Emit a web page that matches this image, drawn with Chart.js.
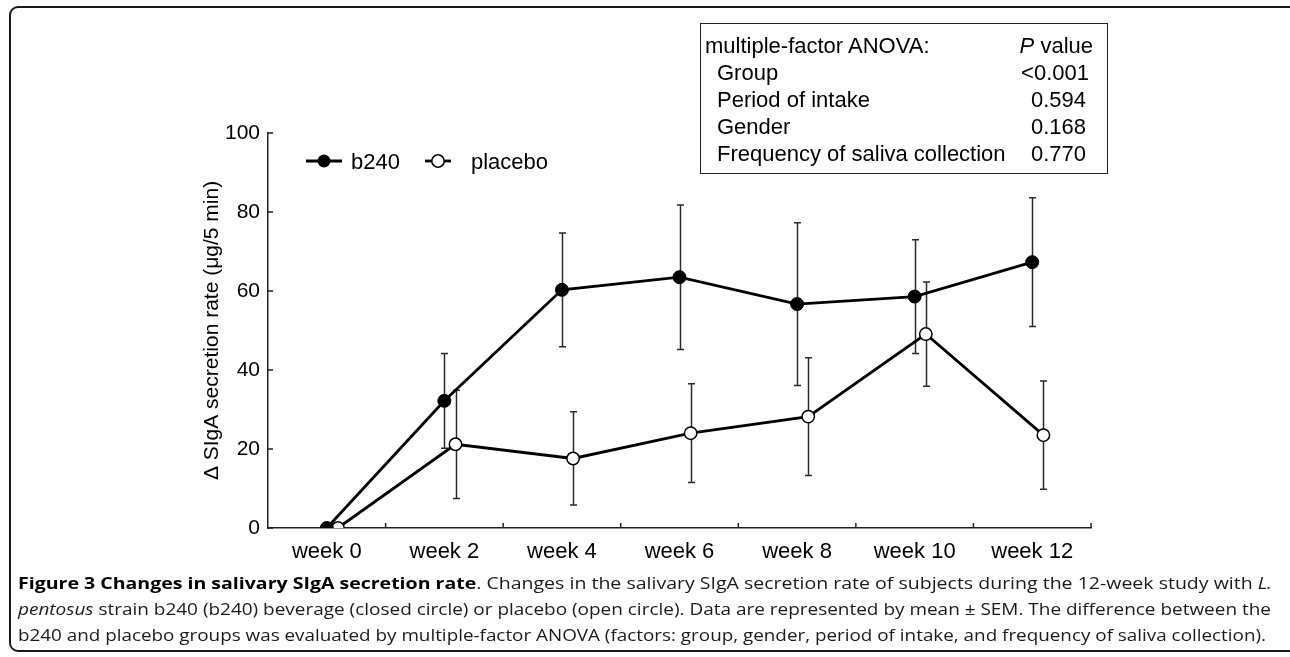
<!DOCTYPE html>
<html>
<head>
<meta charset="utf-8">
<script src="https://cdn.jsdelivr.net/npm/chart.js@4.4.1/dist/chart.umd.min.js"></script>
<style>
  body { margin: 0; background: #fff; }
  #page { position: relative; width: 1290px; height: 657px; overflow: hidden; background: #fff; font-family: "Liberation Sans", Arial, sans-serif; color: #000; }
  #frame { position: absolute; left: 9px; top: 6px; width: 1300px; height: 646px; box-sizing: border-box; border: 2px solid #1a1a1a; border-radius: 9px; }
  #chart { position: absolute; left: 0; top: 0; }
  .t { position: absolute; white-space: nowrap; line-height: 1; font-size: 22px; }
  .r { text-align: right; }
  #anova { position: absolute; left: 700px; top: 23px; width: 408px; height: 151px; box-sizing: border-box; border: 1.5px solid #222; }
  .cap { position: absolute; left: 18px; white-space: nowrap; line-height: 1; font-family: "Open Sans", "Noto Sans", sans-serif; font-size: 16.5px; color: #1a1a1a; transform-origin: 0 0; }
  .cap b { color: #000; }
</style>
</head>
<body>
<div id="page">
  <div id="frame"></div>
  <canvas id="chart" width="1290" height="657"></canvas>

  <svg class="t" style="left:306px;top:152px" width="36" height="18">
    <line x1="0" y1="9" x2="36" y2="9" stroke="#000" stroke-width="2.8"/>
    <circle cx="18" cy="9" r="6.5" fill="#000"/>
  </svg>
  <div class="t" style="left:351px;top:151px">b240</div>
  <svg class="t" style="left:425px;top:152px" width="26" height="18">
    <line x1="0" y1="9" x2="26" y2="9" stroke="#000" stroke-width="2.8"/>
    <circle cx="13" cy="9" r="6.2" fill="#fff" stroke="#000" stroke-width="1.5"/>
  </svg>
  <div class="t" style="left:471px;top:151px">placebo</div>

  <div id="anova"></div>
  <div class="t" style="left:705px;top:35px">multiple-factor ANOVA:</div>
  <div class="t r" style="right:197px;top:35px"><i>P</i> value</div>
  <div class="t" style="left:717px;top:62px">Group</div>
  <div class="t r" style="right:201px;top:62px">&lt;0.001</div>
  <div class="t" style="left:717px;top:89px">Period of intake</div>
  <div class="t r" style="right:204px;top:89px">0.594</div>
  <div class="t" style="left:717px;top:116px">Gender</div>
  <div class="t r" style="right:204px;top:116px">0.168</div>
  <div class="t" style="left:717px;top:143px">Frequency of saliva collection</div>
  <div class="t r" style="right:204px;top:143px">0.770</div>

  <div class="cap" data-w="1254" style="top:575px"><b>Figure 3 Changes in salivary SIgA secretion rate</b>. Changes in the salivary SIgA secretion rate of subjects during the 12-week study with <i>L.</i></div>
  <div class="cap" data-w="1253" style="top:601px"><i>pentosus</i> strain b240 (b240) beverage (closed circle) or placebo (open circle). Data are represented by mean ± SEM. The difference between the</div>
  <div class="cap" data-w="1248" style="top:627px">b240 and placebo groups was evaluated by multiple-factor ANOVA (factors: group, gender, period of intake, and frequency of saliva collection).</div>
</div>

<script>
const weeks = ['week 0', 'week 2', 'week 4', 'week 6', 'week 8', 'week 10', 'week 12']
const b240 = [0, 32.2, 60.3, 63.5, 56.7, 58.6, 67.3]
const b240Sem = [0, 12.0, 14.4, 18.3, 20.6, 14.4, 16.3]
const placebo = [0, 21.2, 17.6, 24.0, 28.2, 49.1, 23.5]
const placeboSem = [0, 13.7, 11.8, 12.5, 14.9, 13.2, 13.7]
const yTicks = [0, 20, 40, 60, 80, 100]

const fontFamily = '"Liberation Sans", Arial, sans-serif'
const placeboShift = 0.095   // the open circles sit a little to the right

// fit caption lines to the width they have in the figure
document.querySelectorAll('.cap').forEach(el => {
    const w = el.getBoundingClientRect().width
    el.style.transform = 'scaleX(' + (el.dataset.w / w) + ')'
})

const errorBars = {
    id: 'errorBars',
    beforeDatasetsDraw(chart) {
        const ctx = chart.ctx
        ctx.save()
        ctx.strokeStyle = '#2a2a2a'
        ctx.lineWidth = 1.5
        chart.data.datasets.forEach((ds, di) => {
            const meta = chart.getDatasetMeta(di)
            const yScale = chart.scales[meta.yAxisID]
            meta.data.forEach((pt, i) => {
                const sem = ds.sem[i]
                if (!sem) return
                const v = ds.data[i].y
                const top = yScale.getPixelForValue(v + sem)
                const bot = yScale.getPixelForValue(v - sem)
                const x = Math.round(pt.x) + 0.5
                ctx.beginPath()
                ctx.moveTo(x, top); ctx.lineTo(x, bot)
                ctx.moveTo(x - 3.5, top); ctx.lineTo(x + 3.5, top)
                ctx.moveTo(x - 3.5, bot); ctx.lineTo(x + 3.5, bot)
                ctx.stroke()
            })
        })
        ctx.restore()
    }
}

const innerTicks = {
    id: 'innerTicks',
    afterDraw(chart) {
        const {ctx, chartArea, scales} = chart
        ctx.save()
        ctx.strokeStyle = '#222'
        ctx.lineWidth = 1.5
        ctx.beginPath()
        yTicks.forEach(v => {
            const py = scales.y.getPixelForValue(v)
            ctx.moveTo(chartArea.left, py)
            ctx.lineTo(chartArea.left + 5, py)
        })
        weeks.forEach((w, i) => {
            const px = scales.xv.getPixelForValue(i + 0.5)
            ctx.moveTo(px, chartArea.bottom)
            ctx.lineTo(px, chartArea.bottom - 5)
        })
        ctx.stroke()
        ctx.restore()
    }
}

new Chart(document.getElementById('chart'), {
    type: 'line',
    data: {
        datasets: [{
            label: 'b240',
            data: b240.map((v, i) => ({x: i, y: v})),
            sem: b240Sem,
            xAxisID: 'xv',
            borderColor: '#000',
            borderWidth: 2.8,
            pointRadius: 6.5,
            pointBackgroundColor: '#000',
            pointBorderColor: '#000',
            pointBorderWidth: 1,
            tension: 0
        }, {
            label: 'placebo',
            data: placebo.map((v, i) => ({x: i + placeboShift, y: v})),
            sem: placeboSem,
            xAxisID: 'xv',
            borderColor: '#000',
            borderWidth: 2.8,
            pointRadius: 6.2,
            pointBackgroundColor: '#fff',
            pointBorderColor: '#000',
            pointBorderWidth: 1.5,
            tension: 0
        }]
    },
    plugins: [errorBars, innerTicks],
    options: {
        responsive: false,
        animation: false,
        devicePixelRatio: 1,
        layout: {padding: {left: 190, top: 133, right: 199, bottom: 89}},
        plugins: {legend: {display: false}, tooltip: {enabled: false}},
        scales: {
            x: {
                type: 'category',
                labels: weeks,
                min: 'week 0',
                max: 'week 12',
                offset: true,
                position: 'bottom',
                grid: {display: false, drawTicks: false, tickLength: 0},
                border: {display: true, color: '#222', width: 1.5},
                ticks: {color: '#000', padding: 11, maxRotation: 0, autoSkip: false, font: {size: 22, family: fontFamily}},
                afterFit: s => { s.height = 40 }
            },
            xv: {
                type: 'linear',
                display: false,
                min: -0.5,
                max: 6.5
            },
            y: {
                min: 0,
                max: 100,
                grid: {display: false, drawTicks: false, tickLength: 0},
                border: {display: true, color: '#222', width: 1.5},
                ticks: {stepSize: 20, color: '#000', padding: 8, font: {size: 21, family: fontFamily}},
                title: {display: true, text: 'Δ SIgA secretion rate (μg/5 min)', color: '#000', padding: {top: 10, bottom: 0}, font: {size: 21, family: fontFamily}},
                afterFit: s => { s.width = 78 }
            }
        }
    }
})
</script>
</body>
</html>
